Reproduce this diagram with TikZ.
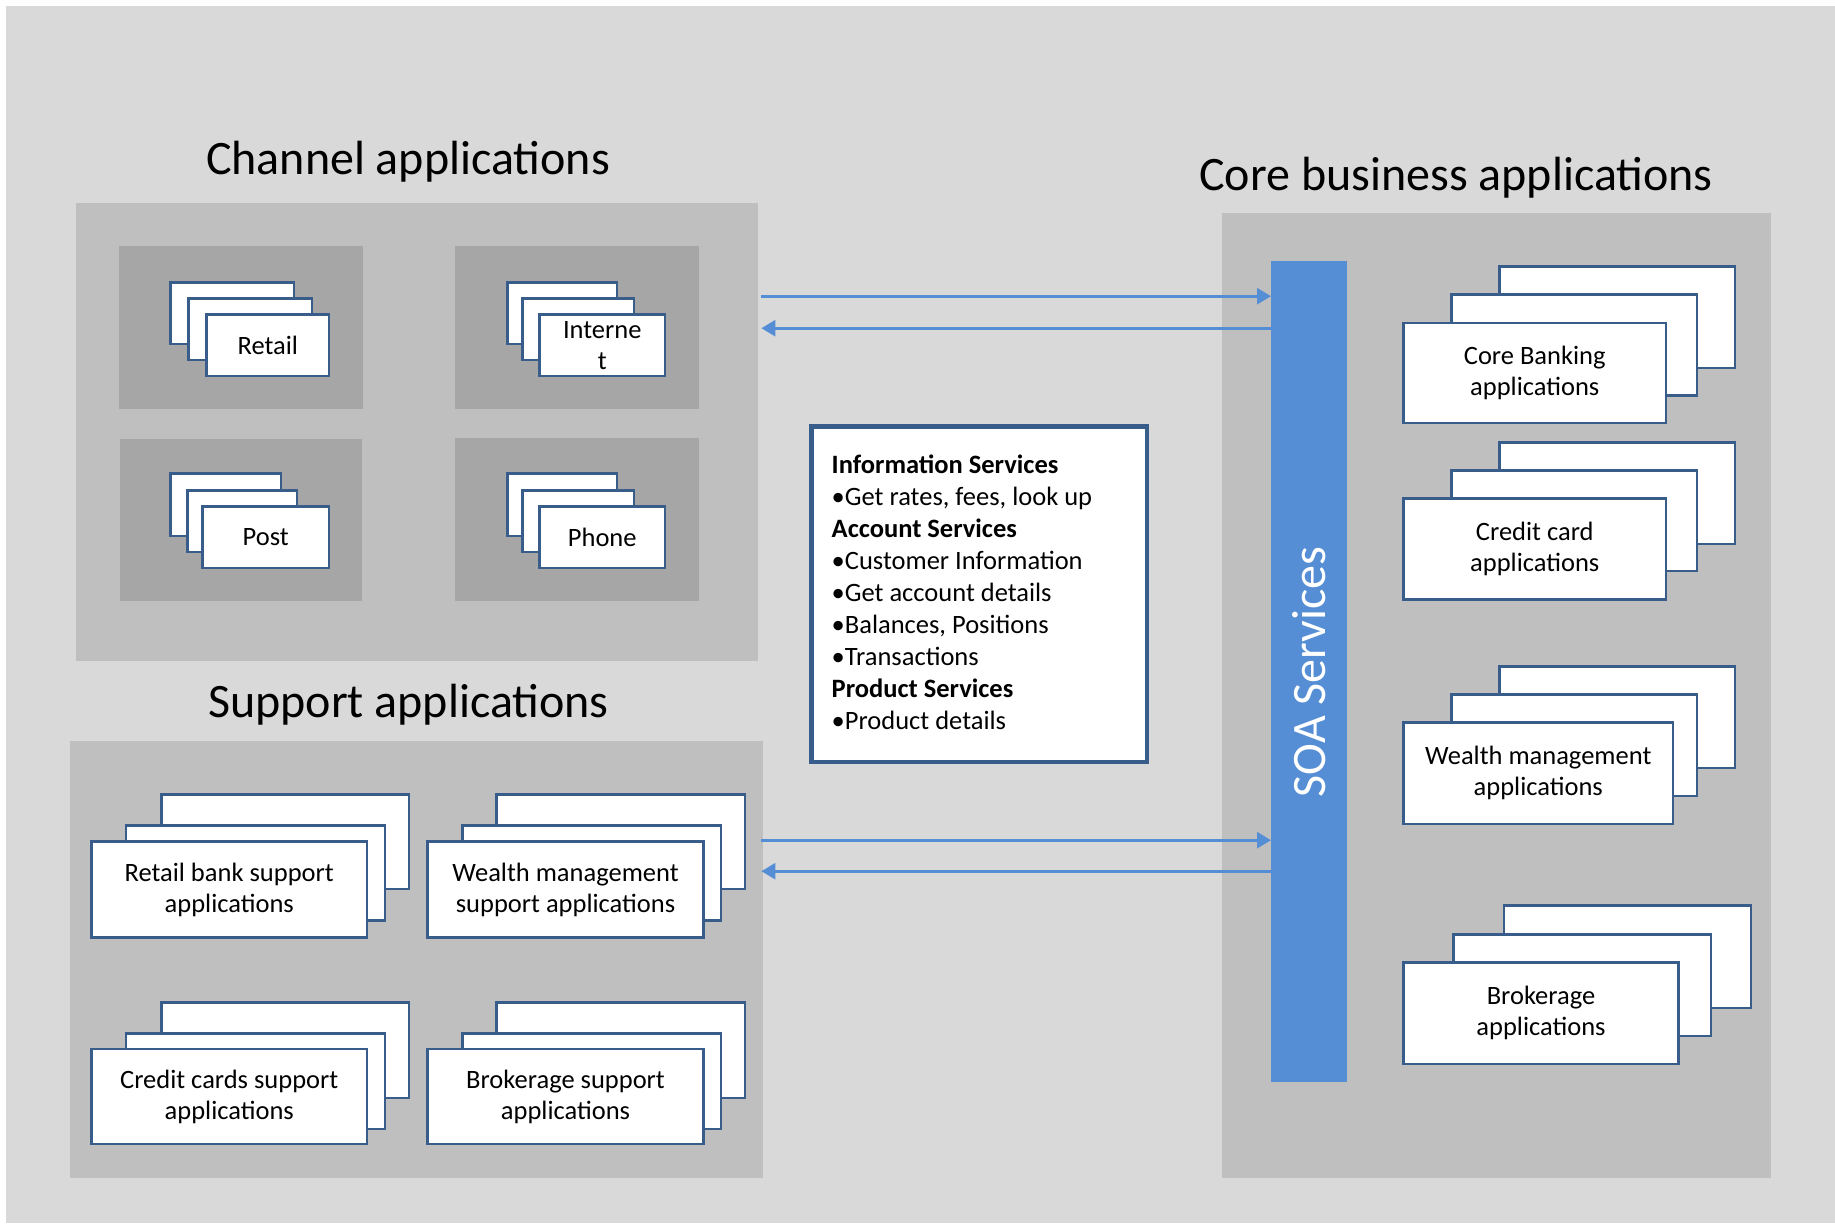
\documentclass[tikz,border=0pt]{standalone}
\usepackage{fontspec}
\setmainfont{Carlito}
\usetikzlibrary{arrows.meta,calc}
\definecolor{bglight}{HTML}{D9D9D9}
\definecolor{panelgray}{HTML}{BFBFBF}
\definecolor{subgray}{HTML}{A6A6A6}
\definecolor{boxblue}{HTML}{385D8A}
\definecolor{soablue}{HTML}{558ED5}
\newcommand\ttlfont{\fontsize{48}{57}\selectfont}
\newcommand\boxfnt{\fontsize{26.5}{31}\selectfont}
\newcommand\infofnt{\fontsize{26.5}{31.9}\selectfont}
\newcommand\soafnt{\fontsize{48}{57}\selectfont}
% name, x1, y1, x2, y2, text
\newcommand\abox[6]{%
  \pgfmathsetmacro\abw{#4-#2-2.5}\pgfmathsetmacro\abh{#5-#3-2.5}%
  \node[appbox, minimum width=\abw pt, minimum height=\abh pt] (#1) at (#2+1.25,#3+1.25) {#6};}
% name, x1, y1, x2, y2, fill colour
\newcommand\pnl[6]{%
  \pgfmathsetmacro\abw{#4-#2}\pgfmathsetmacro\abh{#5-#3}%
  \node[panel, fill=#6, minimum width=\abw pt, minimum height=\abh pt] (#1) at (#2,#3) {};}
\begin{document}
\begin{tikzpicture}[x=1pt,y=-1pt,
  appbox/.style={draw=boxblue, fill=white, line width=2.5pt, inner sep=0pt,
    anchor=north west, align=center, font=\boxfnt, text=black},
  panel/.style={draw=none, inner sep=0pt, anchor=north west},
  title/.style={anchor=base, font=\ttlfont, inner sep=0pt, text=black},
  arr/.style={draw=soablue, line width=2.7pt, -{Triangle[length=14pt,width=16pt]}}]
\useasboundingbox (0,0) rectangle (1835,1223);
\fill[white] (0,0) rectangle (1835,1223);
\fill[bglight] (6,6) rectangle (1835,1223);

% titles
\node[title] (tchan) at (408,174) {Channel applications};
\node[title] (tsup) at (408.5,717.6) {Support applications};
\node[title] (tcore) at (1456,190) {Core business applications};

% panels
\pnl{chan}{76}{203}{758}{661}{panelgray}
\pnl{sup}{70}{741}{763}{1178}{panelgray}
\pnl{core}{1222}{213}{1771}{1178}{panelgray}
\pnl{pretail}{119}{246}{363}{409}{subgray}
\pnl{pinet}{455}{246}{699}{409}{subgray}
\pnl{ppost}{120}{439}{362}{601}{subgray}
\pnl{pphone}{455}{438}{699}{601}{subgray}

% SOA bar
\pnl{soa}{1271}{261}{1347}{1082}{soablue}
\node[rotate=90, text=white, font=\soafnt, inner sep=0pt] (soatxt) at (soa.center) {SOA Services};

% channel stacks
\abox{ret1}{168}{280}{294}{344}{}
\abox{ret2}{186}{296}{312}{360}{}
\abox{ret3}{204}{312}{329}{376}{Retail}
\abox{inet1}{505}{280}{617}{344}{}
\abox{inet2}{520}{296}{634}{360}{}
\abox{inet3}{537}{312}{665}{376}{Interne\\t}
\abox{post1}{168}{471}{281}{536}{}
\abox{post2}{185}{488}{297}{552}{}
\abox{post3}{200}{504}{329}{568}{Post}
\abox{phone1}{505}{471}{617}{536}{}
\abox{phone2}{520}{488}{634}{552}{}
\abox{phone3}{537}{504}{665}{568}{Phone}

% core stacks
\abox{cb1}{1497}{264}{1735}{368}{}
\abox{cb2}{1449}{292}{1697}{395.5}{}
\abox{cb3}{1401}{320.5}{1666}{423}{Core Banking\\applications}
\abox{cc1}{1497}{440}{1735}{544}{}
\abox{cc2}{1449}{468}{1697}{571}{}
\abox{cc3}{1401}{496}{1666}{599.5}{Credit card\\applications}
\abox{wm1}{1497}{664}{1735}{768}{}
\abox{wm2}{1449}{692}{1697}{796}{}
\abox{wm3}{1401}{720}{1673}{824}{Wealth management\\applications}
\abox{br1}{1501.6}{903}{1751}{1008}{}
\abox{br2}{1451}{932}{1711}{1036}{}
\abox{br3}{1401}{960}{1678.5}{1064}{Brokerage\\applications}

% support stacks
\abox{rs1}{159}{792}{409}{889}{}
\abox{rs2}{123.5}{823}{385}{920.5}{}
\abox{rs3}{89}{839}{367}{937.6}{Retail bank support\\applications}
\abox{ws1}{494}{792}{745}{889}{}
\abox{ws2}{460}{823}{721}{920.5}{}
\abox{ws3}{425}{839}{703.6}{937.6}{Wealth management\\support applications}
\abox{cs1}{159}{1000}{409}{1098}{}
\abox{cs2}{123.5}{1031}{385}{1129}{}
\abox{cs3}{89}{1046.6}{367}{1144}{Credit cards support\\applications}
\abox{bs1}{494}{1000}{745}{1098}{}
\abox{bs2}{460}{1031}{721}{1129}{}
\abox{bs3}{425}{1046.6}{703.6}{1144}{Brokerage support\\applications}

% info box
\node[draw=boxblue, fill=white, line width=4.6pt, inner sep=0pt, anchor=north west,
  minimum width=335.4pt, minimum height=335.4pt] (info) at (809.3,424.3) {};
\node[anchor=base west, align=left, font=\infofnt, inner sep=0pt, text=black] (infotxt) at (831.5,729)
  {\textbf{Information Services}\\
   •Get rates, fees, look up\\
   \textbf{Account Services}\\
   •Customer Information\\
   •Get account details\\
   •Balances, Positions\\
   •Transactions\\
   \textbf{Product Services}\\
   •Product details};

% arrows
\coordinate (a1) at ([shift={(3,296-432)}]chan.east);
\coordinate (a2) at ([shift={(3,328-432)}]chan.east);
\coordinate (a3) at ([shift={(-2,840-959.5)}]sup.east);
\coordinate (a4) at ([shift={(-2,871-959.5)}]sup.east);
\draw[arr] (a1) -- (a1 -| soa.west);
\draw[arr] (a2 -| soa.west) -- (a2);
\draw[arr] (a3) -- (a3 -| soa.west);
\draw[arr] (a4 -| soa.west) -- (a4);
\end{tikzpicture}
\end{document}
